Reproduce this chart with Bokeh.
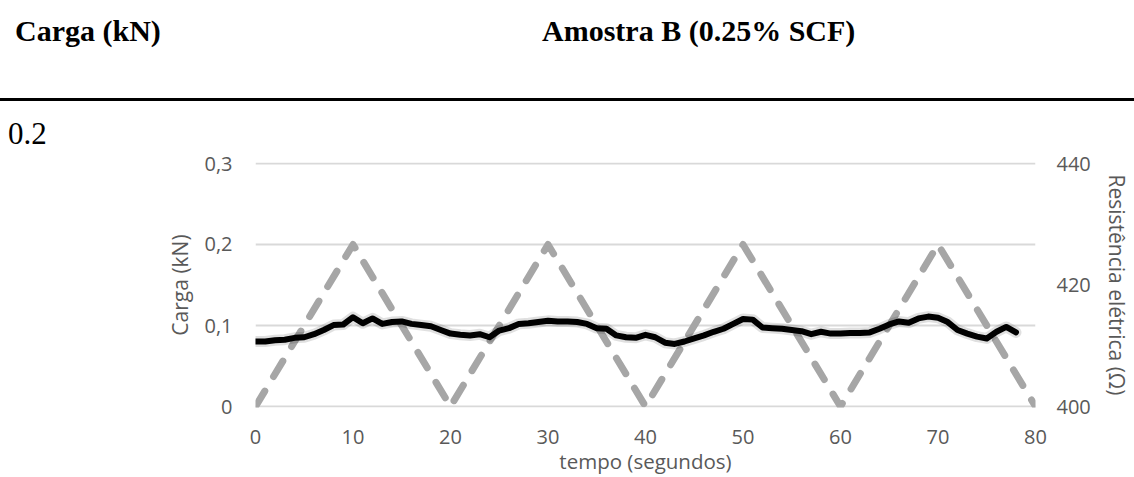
from bokeh.plotting import figure
from bokeh.layouts import column
from bokeh.models import LinearAxis, Range1d, FixedTicker, Div
from bokeh.embed import file_html
from bokeh.resources import INLINE

# ---- data ----
load_t = [0, 10, 20, 30, 40, 50, 60, 70, 80]
load_kn = [0, 0.2, 0, 0.2, 0, 0.2, 0, 0.2, 0]

res_t = list(range(0, 79))
res_ohm = [410.7, 410.7, 410.9, 411.0, 411.3, 411.4, 411.9, 412.6, 413.4, 413.5,
           414.7, 413.7, 414.5, 413.6, 413.9, 414.0, 413.6, 413.4, 413.2, 412.6,
           412.0, 411.8, 411.7, 411.9, 411.4, 412.5, 412.9, 413.6, 413.7, 413.9,
           414.1, 414.0, 414.0, 413.9, 413.6, 412.9, 412.8, 411.7, 411.4, 411.3,
           411.8, 411.4, 410.5, 410.3, 410.7, 411.2, 411.7, 412.3, 412.8, 413.6,
           414.4, 414.3, 413.0, 412.9, 412.8, 412.6, 412.4, 411.9, 412.3, 412.0,
           412.0, 412.1, 412.1, 412.2, 412.8, 413.5, 414.0, 413.8, 414.5, 414.8,
           414.6, 413.9, 412.6, 412.0, 411.5, 411.2, 412.3, 413.1, 412.2]

x_ticks = [0, 10, 20, 30, 40, 50, 60, 70, 80]
left_ticks = [0, 0.1, 0.2, 0.3]
left_labels = {0: "0", 0.1: "0,1", 0.2: "0,2", 0.3: "0,3"}
right_ticks = [400, 420, 440]

header_left = "Carga (kN)"
header_center = "Amostra B (0.25% SCF)"
header_value = "0.2"

# ---- layout constants ----
W = 1134
HH = 150           # header height
HM = 477 - HH      # main figure height
FONT = "Open Sans"
GREY = "#595959"

# ---------------- header (HTML) ----------------
serif = "font-family:'Liberation Serif','Times New Roman',serif;white-space:nowrap;color:black;position:absolute;"
html = (
    f'<div style="position:relative;width:{W}px;height:{HH}px;background:white;">'
    f'<span style="{serif}left:15px;top:16px;font-weight:bold;font-size:30px;line-height:30px;">{header_left}</span>'
    f'<span style="{serif}left:542px;top:16px;font-weight:bold;font-size:30px;line-height:30px;">{header_center}</span>'
    f'<div style="position:absolute;left:0px;top:97.5px;width:{W}px;height:3px;background:black;"></div>'
    f'<span style="{serif}left:8px;top:121px;font-size:31px;line-height:26px;">{header_value}</span>'
    '</div>'
)
hdr = Div(text=html, width=W, height=HH, margin=(0, 0, 0, 0))

# ---------------- main chart ----------------
pad = 0.3 / 244.0
p = figure(width=W, height=HM, x_range=Range1d(0, 80),
           y_range=Range1d(-pad, 0.3 + pad),
           output_backend="svg", toolbar_location=None,
           min_border_left=255, min_border_right=99,
           min_border_top=12, min_border_bottom=69,
           margin=(0, 0, 0, 0))
p.outline_line_color = None
p.background_fill_color = "white"
p.border_fill_color = "white"
rpad = 40.0 / 244.0
p.extra_y_ranges = {"res": Range1d(400 - rpad, 440 + rpad)}

p.xgrid.grid_line_color = None
p.ygrid.ticker = FixedTicker(ticks=left_ticks)
p.ygrid.grid_line_color = "#d9d9d9"
p.ygrid.grid_line_width = 2


def style_axis(ax, standoff, label_standoff, title_size="21px"):
    ax.axis_line_color = None
    ax.major_tick_line_color = None
    ax.minor_tick_line_color = None
    ax.major_tick_out = 0
    ax.major_tick_in = 0
    ax.major_label_text_font = FONT
    ax.major_label_text_font_size = "20px"
    ax.major_label_text_color = GREY
    ax.axis_label_text_font = FONT
    ax.axis_label_text_font_size = title_size
    ax.axis_label_text_font_style = "normal"
    ax.axis_label_text_color = GREY
    ax.major_label_standoff = standoff
    ax.axis_label_standoff = label_standoff


xa = p.xaxis[0]
xa.ticker = FixedTicker(ticks=x_ticks)
xa.axis_label = "tempo (segundos)"
style_axis(xa, 22, 0, "20.5px")

ya = p.yaxis[0]
ya.ticker = FixedTicker(ticks=left_ticks)
ya.major_label_overrides = left_labels
ya.axis_label = "Carga (kN)"
style_axis(ya, 23, 7)

ra = LinearAxis(y_range_name="res", ticker=FixedTicker(ticks=right_ticks),
                axis_label="Resistência elétrica (Ω)")
style_axis(ra, 21, 9)
p.add_layout(ra, "right")

# series
p.line(load_t, load_kn, line_color="#a6a6a6", line_width=7, line_dash="18 17",
       line_cap="round", line_join="round")
p.line(res_t, res_ohm, y_range_name="res", line_color="black", line_width=11,
       line_alpha=0.12, line_cap="round", line_join="round")
p.line(res_t, res_ohm, y_range_name="res", line_color="black", line_width=6,
       line_cap="round", line_join="round")

layout = column(hdr, p, spacing=0)
open("out.html", "w").write(file_html(layout, INLINE))
